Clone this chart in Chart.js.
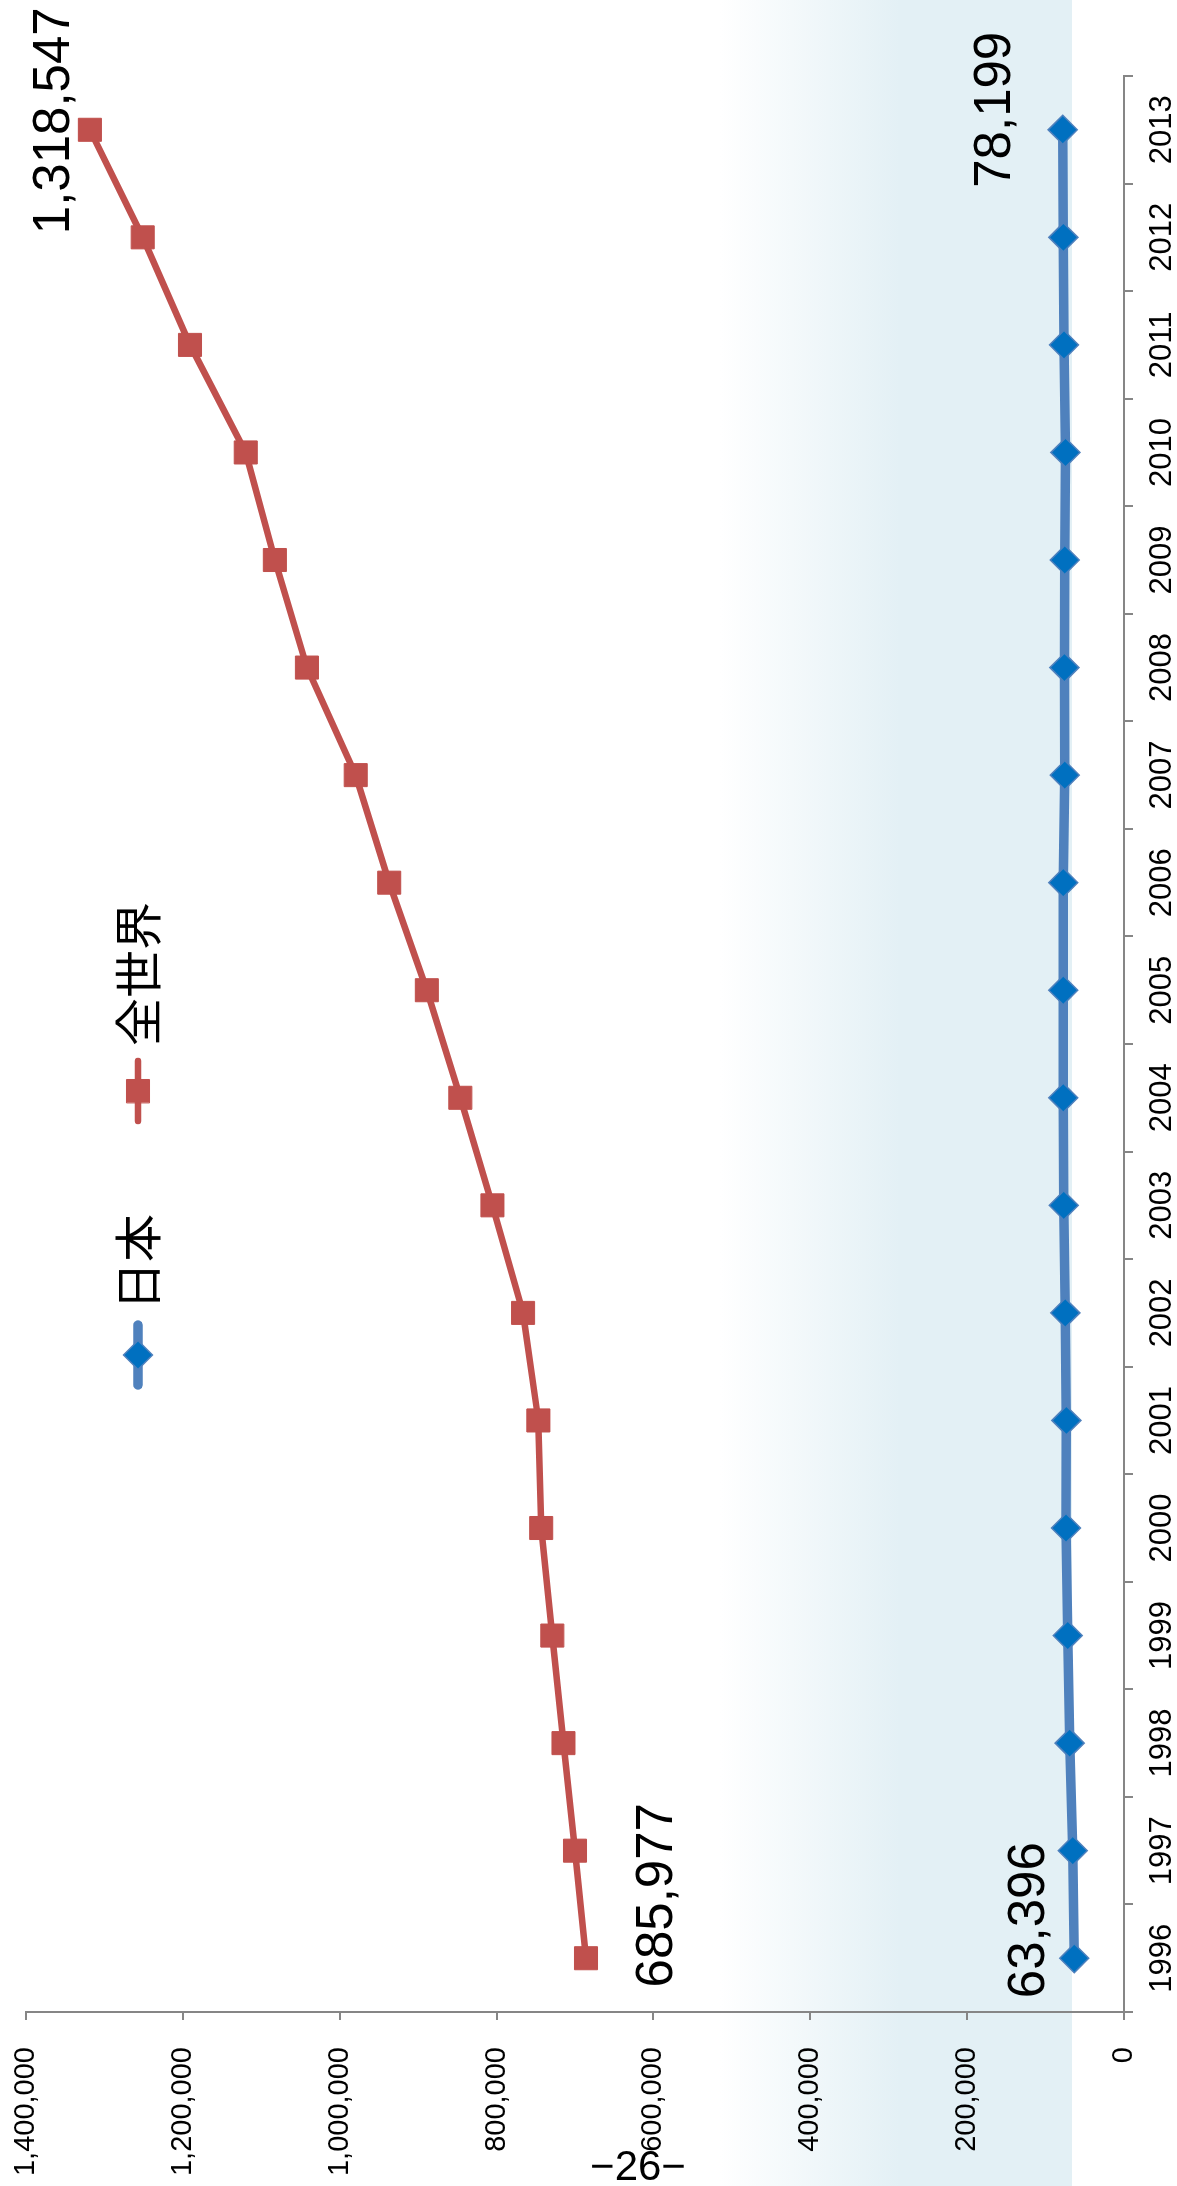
<!DOCTYPE html>
<html lang="ja">
<head>
<meta charset="utf-8">
<title>日本 / 全世界</title>
<script src="https://cdn.jsdelivr.net/npm/chart.js@4.4.1/dist/chart.umd.min.js"></script>
<style>
  html, body { margin: 0; padding: 0; background: #fff; }
  body { position: relative; width: 1177px; height: 2186px; overflow: hidden; }
  #band {
    position: absolute; left: 0; top: 0; width: 1072px; height: 2186px;
    background: linear-gradient(to right, rgba(227, 240, 245, 0) 720px, #e3f0f5 900px);
  }
  /* the chart is laid out landscape and turned a quarter to the left */
  #rot {
    position: absolute; left: 0; top: 0; width: 2186px; height: 1177px;
    transform-origin: 0 0; transform: translate(0, 2186px) rotate(-90deg);
  }
  #page {
    position: absolute; left: 538px; top: 2144px; width: 200px;
    text-align: center; font: 42px "Liberation Sans Narrow", sans-serif; line-height: 44px; color: #000;
  }
</style>
</head>
<body>
<div id="band"></div>
<div id="rot"><canvas id="chart" width="2186" height="1177"></canvas></div>
<div id="page">−26−</div>
<script>
const years = ["1996", "1997", "1998", "1999", "2000", "2001", "2002", "2003", "2004",
               "2005", "2006", "2007", "2008", "2009", "2010", "2011", "2012", "2013"];
const japan = [63396, 65400, 69300, 71800, 73900, 73500, 74800, 76800, 77400,
               77400, 77400, 75600, 76000, 75600, 74700, 76460, 77330, 78199];
const world = [685977, 700000, 714700, 728900, 743100, 746700, 766200, 805300, 846200,
               888900, 936900, 979600, 1041800, 1082700, 1119800, 1190900, 1251200, 1318547];
const yMin = 0;
const yMax = 1400000;
const yStep = 200000;

function fmt(v) {
    return v.toLocaleString("en-US");
}

function marker(ctx, style, r, x, y) {
    ctx.beginPath();
    if (style === "rect") {
        var s = Math.SQRT1_2 * r;
        ctx.rect(x - s, y - s, 2 * s, 2 * s);
    } else {
        ctx.moveTo(x - r, y);
        ctx.lineTo(x, y - r);
        ctx.lineTo(x + r, y);
        ctx.lineTo(x, y + r);
        ctx.closePath();
    }
    ctx.fill();
    ctx.stroke();
}

// value labels at the first and last point of each line
const endLabels = {
    id: "endLabels",
    afterDatasetsDraw(chart) {
        const ctx = chart.ctx;
        ctx.save();
        ctx.fillStyle = "#000";
        ctx.font = "51px 'Liberation Sans', Arial, sans-serif";
        ctx.textAlign = "center";
        ctx.textBaseline = "alphabetic";
        chart.data.datasets.forEach(function (ds, i) {
            const pts = chart.getDatasetMeta(i).data;
            [0, pts.length - 1].forEach(function (idx, k) {
                const off = ds.endOffsets[k];
                ctx.fillText(fmt(ds.data[idx]), pts[idx].x + off[0], pts[idx].y + off[1]);
            });
        });
        ctx.restore();
    },
};

// legend drawn inside the plot, like the original
const innerLegend = {
    id: "innerLegend",
    afterDraw(chart) {
        const ctx = chart.ctx;
        const area = chart.chartArea;
        let x = area.left + 627;
        const y = area.top + 112;
        ctx.save();
        ctx.font = "48px 'Noto Sans CJK JP', sans-serif";
        ctx.textBaseline = "middle";
        ctx.textAlign = "left";
        chart.data.datasets.forEach(function (ds) {
            ctx.strokeStyle = ds.borderColor;
            ctx.lineWidth = ds.borderWidth;
            ctx.lineCap = "round";
            ctx.beginPath();
            ctx.moveTo(x, y);
            ctx.lineTo(x + 60, y);
            ctx.stroke();
            ctx.fillStyle = ds.pointBackgroundColor;
            ctx.strokeStyle = ds.pointBorderColor;
            ctx.lineWidth = ds.pointBorderWidth;
            marker(ctx, ds.pointStyle, ds.pointRadius, x + 30, y);
            ctx.fillStyle = "#000";
            ctx.fillText(ds.label, x + 75, y);
            x += 75 + ctx.measureText(ds.label).width + 93;
        });
        ctx.restore();
    },
};

const valueFont = { family: "'Liberation Sans', Arial, sans-serif", size: 29 };
const yearFont = { family: "'Liberation Sans', Arial, sans-serif", size: 31 };

new Chart(document.getElementById("chart").getContext("2d"), {
    type: "line",
    data: {
        labels: years,
        datasets: [
            {
                label: "日本",
                data: japan,
                borderColor: "#4F81BD",
                borderWidth: 9.5,
                pointStyle: "rectRot",
                pointRadius: 14.5,
                pointBackgroundColor: "#0070C0",
                pointBorderColor: "#4F81BD",
                pointBorderWidth: 1.5,
                tension: 0,
                fill: false,
                endOffsets: [[38, -30], [20, -53]],
            },
            {
                label: "全世界",
                data: world,
                borderColor: "#C0504D",
                borderWidth: 6.5,
                pointStyle: "rect",
                pointRadius: 16.3,
                pointBackgroundColor: "#C0504D",
                pointBorderColor: "#C0504D",
                pointBorderWidth: 1,
                tension: 0,
                fill: false,
                endOffsets: [[63, 86], [9, -21]],
            },
        ],
    },
    options: {
        responsive: false,
        animation: false,
        devicePixelRatio: 1,
        layout: { padding: { top: 26, right: 76, bottom: 0, left: 0 } },
        plugins: {
            legend: { display: false },
            tooltip: { enabled: false },
        },
        scales: {
            x: {
                type: "category",
                offset: true,
                grid: {
                    offset: true,
                    drawOnChartArea: false,
                    drawTicks: true,
                    tickLength: 9,
                    color: "#868686",
                    lineWidth: 2,
                },
                border: { display: true, color: "#868686", width: 2 },
                ticks: {
                    color: "#000",
                    font: yearFont,
                    maxRotation: 0,
                    minRotation: 0,
                    autoSkip: false,
                    padding: 11,
                },
                afterFit: function (scale) {
                    scale.height = 53;
                    scale.paddingLeft = 0;
                    scale.paddingRight = 0;
                },
            },
            y: {
                min: yMin,
                max: yMax,
                grid: {
                    drawOnChartArea: false,
                    drawTicks: true,
                    tickLength: 8,
                    color: "#868686",
                    lineWidth: 2,
                },
                border: { display: true, color: "#868686", width: 2 },
                ticks: {
                    stepSize: yStep,
                    color: "#000",
                    font: valueFont,
                    padding: 27,
                    callback: function (value) {
                        return fmt(value);
                    },
                },
                afterFit: function (scale) {
                    scale.width = 174;
                    scale.paddingTop = 0;
                    scale.paddingBottom = 0;
                },
            },
        },
    },
    plugins: [endLabels, innerLegend],
});
</script>
</body>
</html>
